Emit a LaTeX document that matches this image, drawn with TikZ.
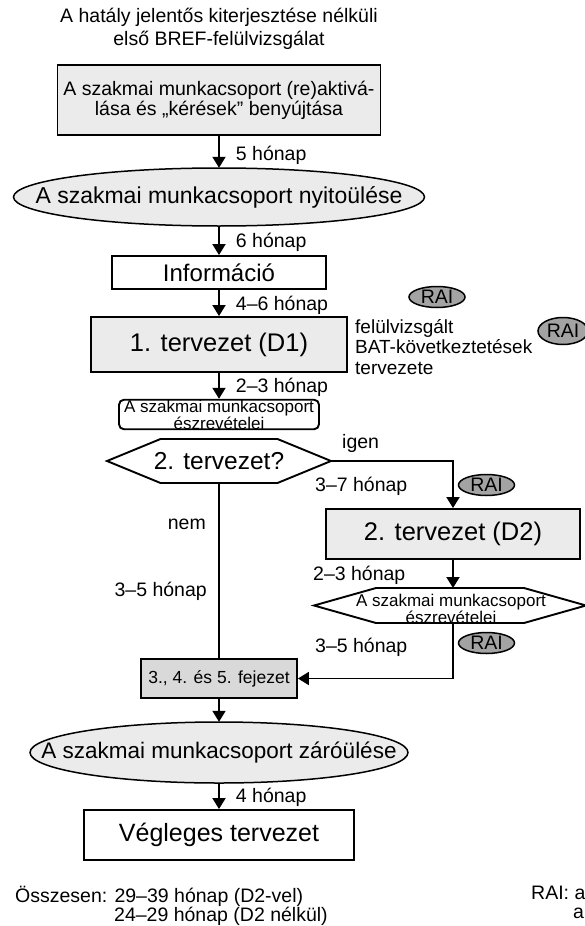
\documentclass[tikz,border=0pt]{standalone}
\usepackage{fontspec}
\setmainfont{Liberation Sans}
\usetikzlibrary{arrows.meta,shapes.geometric}

\definecolor{boxgray}{gray}{0.92}
\definecolor{chapgray}{gray}{0.85}
\definecolor{raigray}{gray}{0.64}
\newcommand{\fsz}[2]{\fontsize{#1}{#2}\selectfont}

\begin{document}
\begin{tikzpicture}[x=1pt,y=-1pt,
    stage/.style={draw,line width=1.9pt,rectangle,inner sep=0pt,align=center},
    sess/.style={draw,line width=1.5pt,fill=boxgray},
    rai/.style={draw,line width=1.5pt,ellipse,fill=raigray,inner sep=0pt,
        minimum width=56pt,minimum height=21pt,font=\fsz{19.5}{20}},
    flow/.style={line width=1.9pt,-{Triangle[length=11pt,width=13pt]}},
    lw/.style={line width=1.9pt},
    time/.style={anchor=west,inner sep=0pt,xshift=16pt,font=\fsz{19.5}{20}},
    txt/.style={inner sep=0pt,font=\fsz{19.5}{20}}]

    \useasboundingbox (0,0) rectangle (585,926);
    \clip (0,0) rectangle (585,926);

    \node[txt,align=center,font=\fsz{19.5}{23}] (title) at (219,29) {A hatály jelentős kiterjesztése nélküli\\első BREF-felülvizsgálat};

    \node[stage,fill=boxgray,minimum width=323pt,minimum height=70pt,font=\fsz{19.5}{20}] (reakt) at (219,100) {A szakmai munkacsoport (re)aktivá-\\lása és „kérések” benyújtása};

    % ulesek: ellipszis + szoveg
    \draw[sess] (219,197) ellipse [x radius=205.5pt,y radius=29pt];
    \node[inner sep=0pt,minimum width=411pt,minimum height=58pt,font=\fsz{23}{26}] (nyito) at (219,197) {A szakmai munkacsoport nyitoülése};

    \node[stage,fill=white,minimum width=214pt,minimum height=33pt,font=\fsz{24}{26}] (info) at (219,272.5) {Információ};
    \node[stage,fill=boxgray,minimum width=256pt,minimum height=55pt,font=\fsz{25.5}{28}] (d1) at (219,344.5) {1. tervezet (D1)};
    \node[stage,rounded corners=5pt,fill=white,minimum width=200pt,minimum height=29pt,font=\fsz{17}{15}] (eszrev1) at (219,414.5) {A szakmai munkacsoport\\észrevételei};

    % RAI jelek
    \node[rai] (rai1) at (437,297) {RAI};
    \node[rai,minimum width=50pt,minimum height=27pt] (rai2) at (563,331) {RAI};
    \node[rai] (rai3) at (486.5,485) {RAI};
    \node[rai] (rai4) at (486.5,643) {RAI};

    \node[txt,anchor=west,align=left,font=\fsz{19}{20.5}] (batc) at (355,347) {felülvizsgált\\BAT-következtetések\\tervezete};

    % 2. tervezet? (hatszog)
    \node[txt,font=\fsz{24.5}{26}] (kerd) at (219,461) {2. tervezet?};
    \draw[lw] (107,461) -- (160.5,439) -- (277.5,439) -- (331,461) -- (277.5,483) -- (160.5,483) -- cycle;
    \coordinate (kerdE) at (331,461);
    \coordinate (kerdS) at (219,483);

    \node[stage,fill=boxgray,minimum width=254pt,minimum height=50pt,font=\fsz{25.5}{28}] (d2) at (453,534) {2. tervezet (D2)};

    \node[txt,align=center,font=\fsz{17}{14}] (eszrev2) at (451,609) {A szakmai munkacsoport\\észrevételei};
    \draw[lw] (314,605.5) -- (376,588) -- (524,588) -- (586,605.5) -- (524,623) -- (376,623) -- cycle;
    \coordinate (e2N) at (453,588);
    \coordinate (e2S) at (453,623);

    \node[stage,fill=chapgray,minimum width=156pt,minimum height=39pt,font=\fsz{17.5}{20}] (fej) at (219,678.5) {3., 4. és 5. fejezet};

    \draw[sess] (219,752.5) ellipse [x radius=189pt,y radius=30.5pt];
    \node[inner sep=0pt,minimum width=378pt,minimum height=61pt,font=\fsz{22.5}{25}] (zaro) at (219,752.5) {A szakmai munkacsoport záróülése};

    \node[stage,fill=white,minimum width=270pt,minimum height=50pt,font=\fsz{25}{28}] (veg) at (219,835) {Végleges tervezet};

    \draw[flow] (reakt) -- node[time,pos=.6] (t5) {5 hónap} (nyito);
    \draw[flow] (nyito) -- node[time,pos=.55] (t6) {6 hónap} (info);
    \draw[flow] (info) -- node[time,pos=.6] (t46) {4–6 hónap} (d1);
    \draw[flow] (d1) -- node[time,pos=.55] (t23) {2–3 hónap} (eszrev1);

    \draw[flow] (kerdE) -| (d2.north);
    \draw[flow] (d2.south) -- (e2N);
    \draw[flow] (e2S) |- (fej.east);
    \draw[lw] (kerdS) -- (fej.north);
    \draw[flow] (fej) -- (zaro);
    \draw[flow] (zaro) -- node[time,pos=.55] (t4) {4 hónap} (veg);

    \node[txt,anchor=west] (igen) at (342,443) {igen};
    \node[txt,anchor=west] (t37) at (315,486) {3–7 hónap};
    \node[txt,anchor=west] (t23b) at (313,575) {2–3 hónap};
    \node[txt,anchor=west] (t35b) at (315,647) {3–5 hónap};
    \node[txt,anchor=east] (nem) at (206,524) {nem};
    \node[txt,anchor=east] (t35a) at (207,591) {3–5 hónap};

    \node[txt,anchor=north west,align=left,font=\fsz{19.5}{19}] (ossz) at (15,886) {Összesen: 29–39 hónap (D2-vel)\\\hspace*{99pt}24–29 hónap (D2 nélkül)};
    \node[txt,anchor=north west,align=left,font=\fsz{19.5}{19}] (railg) at (531,886) {RAI: a\\\hspace*{42pt}a};
\end{tikzpicture}
\end{document}
